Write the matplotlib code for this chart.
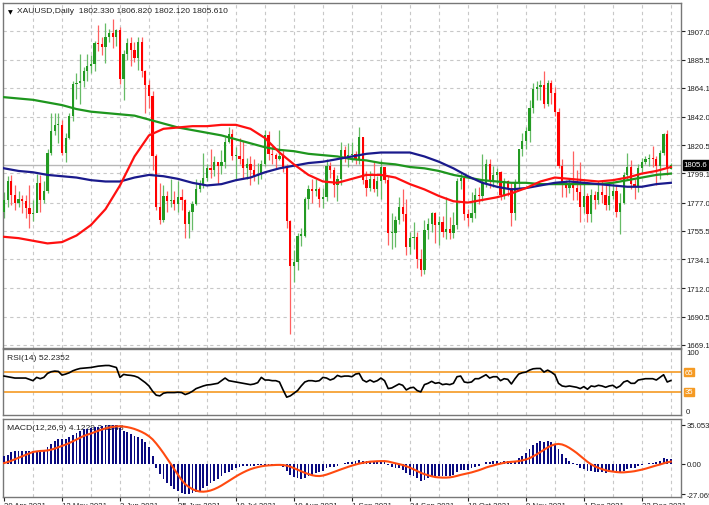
import numpy as np
import matplotlib
matplotlib.use("Agg")
import matplotlib.pyplot as plt

W, H = 709, 506

# daily bars 20 Apr 2021 .. 4 Jan 2022 (open = previous close)
first_open = 1770.0
closes = [1779, 1793, 1783, 1777, 1780, 1778, 1773, 1768, 1769, 1792,
          1779, 1786, 1815, 1831, 1836, 1836, 1815, 1826, 1843, 1867,
          1868, 1869, 1877, 1881, 1882, 1898, 1897, 1895, 1903, 1906,
          1903, 1908, 1871, 1890, 1898, 1893, 1887, 1899, 1877, 1866,
          1858, 1812, 1774, 1764, 1782, 1778, 1779, 1776, 1781, 1779,
          1761, 1770, 1776, 1787, 1791, 1796, 1803, 1802, 1808, 1805,
          1808, 1823, 1829, 1812, 1812, 1810, 1803, 1806, 1802, 1797,
          1799, 1806, 1828, 1814, 1813, 1810, 1812, 1804, 1763, 1729,
          1732, 1752, 1752, 1780, 1787, 1786, 1787, 1780, 1781, 1805,
          1802, 1790, 1795, 1817, 1810, 1813, 1814, 1810, 1827, 1794,
          1788, 1795, 1787, 1793, 1804, 1794, 1754, 1754, 1764, 1774,
          1768, 1743, 1750, 1751, 1734, 1726, 1756, 1761, 1769, 1760,
          1762, 1755, 1757, 1754, 1760, 1793, 1796, 1768, 1765, 1769,
          1783, 1782, 1792, 1806, 1793, 1798, 1800, 1783, 1793, 1788,
          1769, 1792, 1818, 1824, 1831, 1849, 1863, 1865, 1866, 1852,
          1868, 1860, 1846, 1805, 1790, 1788, 1790, 1788, 1785, 1774,
          1782, 1768, 1783, 1779, 1785, 1783, 1775, 1782, 1786, 1770,
          1777, 1798, 1804, 1791, 1789, 1803, 1808, 1810, 1811, 1810,
          1805, 1815, 1829, 1802.33, 1805.61]
highs = [1785, 1797, 1798, 1790, 1786, 1783, 1783, 1790, 1779, 1799,
         1798, 1793, 1818, 1845, 1845, 1845, 1840, 1830, 1845, 1869,
         1875, 1890, 1880, 1890, 1889, 1900, 1912, 1903, 1913, 1909,
         1916, 1909, 1910, 1893, 1902, 1903, 1899, 1903, 1903, 1878,
         1870, 1862, 1814, 1792, 1790, 1786, 1795, 1786, 1793, 1787,
         1780, 1771, 1778, 1795, 1794, 1815, 1806, 1818, 1812, 1808,
         1817, 1827, 1834, 1833, 1819, 1826, 1824, 1811, 1812, 1810,
         1807, 1809, 1832, 1831, 1820, 1815, 1832, 1817, 1806, 1764,
         1741, 1754, 1758, 1781, 1790, 1795, 1795, 1789, 1788, 1810,
         1808, 1804, 1798, 1823, 1820, 1822, 1823, 1816, 1834, 1827,
         1801, 1801, 1808, 1797, 1809, 1801, 1797, 1769, 1767, 1781,
         1787, 1780, 1755, 1762, 1755, 1742, 1764, 1765, 1770, 1770,
         1767, 1767, 1781, 1766, 1770, 1796, 1800, 1797, 1772, 1785,
         1788, 1789, 1814, 1810, 1810, 1805, 1803, 1801, 1796, 1794,
         1792, 1795, 1818, 1830, 1834, 1855, 1868, 1869, 1870, 1877,
         1870, 1870, 1865, 1849, 1810, 1794, 1795, 1816, 1802, 1808,
         1793, 1784, 1787, 1786, 1793, 1793, 1790, 1792, 1792, 1790,
         1784, 1800, 1815, 1809, 1795, 1806, 1811, 1812, 1814, 1820,
         1812, 1817, 1830, 1832, 1806.82]
lows = [1765, 1774, 1775, 1771, 1774, 1769, 1765, 1758, 1763, 1770,
        1770, 1777, 1784, 1813, 1828, 1822, 1813, 1808, 1825, 1839,
        1856, 1852, 1865, 1869, 1875, 1877, 1892, 1889, 1883, 1899,
        1894, 1896, 1867, 1855, 1885, 1881, 1884, 1878, 1872, 1845,
        1849, 1802, 1771, 1761, 1762, 1770, 1774, 1771, 1770, 1771,
        1750, 1750, 1756, 1775, 1785, 1788, 1793, 1796, 1797, 1791,
        1799, 1803, 1822, 1809, 1795, 1806, 1796, 1795, 1790, 1793,
        1791, 1795, 1805, 1809, 1806, 1803, 1809, 1800, 1758, 1677,
        1717, 1726, 1744, 1751, 1772, 1777, 1782, 1774, 1773, 1778,
        1796, 1781, 1778, 1790, 1808, 1804, 1808, 1806, 1806, 1791,
        1782, 1786, 1785, 1782, 1780, 1792, 1745, 1742, 1743, 1761,
        1763, 1737, 1738, 1742, 1727, 1721, 1723, 1749, 1755, 1746,
        1745, 1751, 1749, 1749, 1750, 1757, 1787, 1764, 1759, 1762,
        1765, 1776, 1778, 1789, 1788, 1789, 1791, 1779, 1780, 1782,
        1759, 1764, 1788, 1812, 1818, 1823, 1845, 1855, 1855, 1849,
        1850, 1852, 1843, 1803, 1781, 1781, 1784, 1779, 1779, 1762,
        1769, 1762, 1762, 1772, 1776, 1777, 1771, 1771, 1780, 1766,
        1753, 1776, 1795, 1787, 1780, 1785, 1800, 1806, 1805, 1804,
        1790, 1795, 1813, 1798, 1802.12]

# moving averages read every 4 bars
ma_bars = list(range(0, 185, 4))
ma_red = [1751, 1750, 1748, 1746, 1747, 1752, 1760, 1772, 1790, 1812,
          1828, 1833, 1834, 1835, 1835, 1836, 1836, 1833, 1826, 1815,
          1806, 1798, 1793, 1792, 1795, 1798, 1798, 1796, 1791, 1787,
          1782, 1778, 1777, 1779, 1781, 1784, 1788, 1793, 1796, 1795,
          1794, 1793, 1794, 1796, 1799, 1801, 1804]
ma_green = [1857, 1856, 1855, 1853, 1851, 1848, 1846, 1845, 1844, 1843,
            1840, 1837, 1834, 1832, 1830, 1828, 1825, 1822, 1819, 1817,
            1816, 1814, 1813, 1812, 1810, 1809, 1807, 1806, 1804, 1803,
            1801, 1798, 1796, 1794, 1793, 1792, 1792, 1791, 1791, 1791,
            1791, 1791, 1792, 1794, 1796, 1798, 1799]
ma_blue = [1803, 1801, 1800, 1798, 1797, 1796, 1794, 1793, 1793, 1796,
           1798, 1797, 1795, 1792, 1790, 1791, 1794, 1796, 1800, 1803,
           1805, 1807, 1808, 1810, 1812, 1814, 1815, 1815, 1815, 1812,
           1808, 1803, 1797, 1792, 1789, 1787, 1788, 1790, 1792, 1793,
           1792, 1791, 1790, 1789, 1789, 1791, 1792]

# RSI(14) per bar
rsi = [59, 58, 57, 56, 56, 56, 56, 54, 52, 57, 55, 57, 63, 65.5, 66.5,
       66, 60.5, 62, 64, 67, 69, 70.5, 71, 71.5, 72, 73, 74, 74.5, 75, 75,
       73.5, 72, 57, 61.5, 60.5, 60, 59, 57, 53, 49, 44, 36, 30, 29, 33,
       34, 34, 34, 34.5, 34, 31, 33, 36, 40, 42, 44, 45.5, 46, 47, 48, 52,
       56, 52, 51, 50, 49, 48, 47, 46, 47, 49, 57, 53, 53, 52, 52, 50, 38,
       27, 29, 33, 37, 44, 50, 52, 52, 51, 52, 57, 56, 53, 55, 60, 58, 59,
       59, 58, 62, 63, 53, 50, 53, 50, 52, 56, 52, 40, 41, 44, 47, 45, 38,
       41, 42, 37, 35, 46, 48, 51, 48, 49, 46, 47, 46, 48, 58, 59, 50, 49,
       50, 55, 55, 58, 61, 56, 58, 58, 52, 55, 54, 47, 55, 62, 64, 65, 68,
       70, 70.5, 70.5, 65, 68, 65, 61, 48, 44, 43, 44, 43, 42, 40, 43, 39,
       44, 43, 45, 44, 42, 44, 45, 41, 44, 50, 52, 48, 48, 53, 54, 55, 55,
       55, 53, 57, 61, 50, 52.2352]

# MACD(12,26,9) main line per bar
macd = [7, 8, 11, 12, 12, 12, 12, 11.5, 11.5, 11.5, 11.5, 12.5, 15, 18,
        21, 22.5, 22, 22.5, 24, 26, 28, 29.5, 31, 31.5, 32, 33, 33.5, 34,
        35, 35, 35, 35, 32, 30, 28.5, 27, 25.5, 24, 22, 19.5, 15.5, 7,
        -3.5, -9, -13.5, -17, -20, -22.5, -24.5, -26, -27, -27, -26.5,
        -25.5, -24, -21.5, -19.5, -17.5, -15.5, -13.5, -11, -8.5, -7, -5,
        -3.5, -2.5, -2, -1.5, -1.5, -1.5, -1, -0.5, -0.5, -0.5, -0.5, -0.5,
        -1, -3, -6, -10, -12, -13, -13.5, -12.5, -11, -10, -8.5, -7.5, -6,
        -4, -3, -2.5, -2, 0, 0.5, 1.5, 2, 2.5, 4, 3, 2.5, 2.5, 2, 2, 2.5,
        2, -1, -3, -4, -4, -5, -8, -9.5, -10.5, -12.5, -15, -14, -13, -12,
        -11.5, -11, -11, -10.5, -10.5, -10, -7, -5, -5.5, -5, -4, -2.5,
        -1.5, 0, 1.5, 2, 2.5, 3, 2, 2.5, 2.5, 1, 2.5, 5, 7.5, 10, 13.5, 17,
        19, 20.5, 20, 20.5, 20, 18, 13.5, 9, 5.5, 3, 1, -1, -3.5, -4.5, -6,
        -6.5, -7, -7, -7.5, -8, -7.5, -7.5, -8.5, -8.5, -6.5, -4.5, -4,
        -3.5, -2, -1, 0, 0.5, 1, 1.5, 3, 5.5, 4.5, 4.1229]

price_ticks = [1907.0, 1885.5, 1864.1, 1842.0, 1820.5, 1799.1, 1777.0,
               1755.5, 1734.1, 1712.0, 1690.5, 1669.1]
date_labels = ["20 Apr 2021", "12 May 2021", "3 Jun 2021", "25 Jun 2021",
               "19 Jul 2021", "10 Aug 2021", "1 Sep 2021", "24 Sep 2021",
               "18 Oct 2021", "9 Nov 2021", "1 Dec 2021", "23 Dec 2021"]
last_price = 1805.61
rsi_levels = [65, 35]
macd_top, macd_bottom = 35.053, -27.069

closes = np.array(closes, float)
highs = np.array(highs, float)
lows = np.array(lows, float)
opens = np.concatenate([[first_open], closes[:-1]])
n = len(closes)
idx = np.arange(n)

# signal = 9 bar SMA of MACD (nothing known before the first bar)
macd = np.array(macd, float)
padded = np.concatenate([np.zeros(8), macd])
signal = np.array([padded[i:i + 9].mean() for i in range(n)])


def px_axes(l, t, r, b):
    return fig.add_axes([l / W, 1 - b / H, (r - l) / W, (b - t) / H])


plt.rcParams["font.family"] = ["Liberation Sans", "DejaVu Sans"]
fig = plt.figure(figsize=(W / 100, H / 100), dpi=100)
fig.patch.set_facecolor("white")

x_left, x_right = -0.28, 186.8
grid_kw = dict(color="#c8c8c8", lw=0.8, ls=(0, (3, 3)), zorder=0)
frame_col = "#777777"
fs = 5.6
title_fs = 6.1

ax = px_axes(3, 4, 681, 349)
ax_rsi = px_axes(3, 350, 681, 416)
ax_macd = px_axes(3, 420, 681, 498)

for a in (ax, ax_rsi, ax_macd):
    a.set_xlim(x_left, x_right)
    for s in a.spines.values():
        s.set_color(frame_col)
        s.set_linewidth(1.0)
    a.yaxis.tick_right()
    a.tick_params(axis="y", direction="out", length=3, width=0.8,
                  colors="#222222", labelsize=fs, pad=1.0)
    a.set_xticks([])
    for g in range(8, n + 4, 8):
        a.axvline(g, **grid_kw)

# price panel
ax.set_ylim(1666.6, 1928.5)
ax.set_yticks(price_ticks)
ax.set_yticklabels([f"{v:.1f}" for v in price_ticks])
for v in price_ticks:
    ax.axhline(v, **grid_kw)
ax.axhline(last_price, color="#b8b8b8", lw=1.0, zorder=1)

up = closes >= opens
body_col = np.where(up, "#239a23", "#ff0000")
wick_col = np.where(up, "#66bb66", "#ff6060")
ax.vlines(idx, lows, highs, colors=wick_col, lw=0.9, zorder=2)
heights = np.where(np.abs(closes - opens) < 0.8, 0.8, closes - opens)
ax.bar(idx, heights, bottom=opens, width=0.62, color=body_col,
       linewidth=0, zorder=3)

ax.plot(ma_bars, ma_green, color="#1e961e", lw=1.6, zorder=4)
ax.plot(ma_bars, ma_blue, color="#1a1a8c", lw=1.6, zorder=4)
ax.plot(ma_bars, ma_red, color="#ff1010", lw=1.6, zorder=4)

ax.text(0.0075, 0.982, "\u25bc", transform=ax.transAxes, fontsize=4.5,
        va="top", ha="left", color="black", family="DejaVu Sans")
ax.text(0.0205, 0.987, "XAUUSD,Daily  1802.330 1806.820 1802.120 1805.610",
        transform=ax.transAxes, fontsize=title_fs, va="top", ha="left",
        color="#222222")
ax.text(1.004, last_price, "1805.6", transform=ax.get_yaxis_transform(),
        fontsize=fs, color="white", va="center", ha="left", clip_on=False,
        bbox=dict(boxstyle="square,pad=0.15", fc="black", ec="black"))

# RSI panel
ax_rsi.set_ylim(0, 100)
ax_rsi.set_yticks([100, 0])
ax_rsi.set_yticklabels(["100", "0"])
ax_rsi.get_yticklabels()[0].set_va("top")
ax_rsi.get_yticklabels()[1].set_va("bottom")
ax_rsi.tick_params(axis="y", length=0, pad=3.5)
for lv in rsi_levels:
    ax_rsi.axhline(lv, color="#f59a23", lw=1.2, zorder=2)
    ax_rsi.text(1.006, lv, str(lv), transform=ax_rsi.get_yaxis_transform(),
                fontsize=fs, color="white", va="center", ha="left",
                clip_on=False,
                bbox=dict(boxstyle="square,pad=0.1", fc="#f59a23",
                          ec="#f59a23"))
ax_rsi.plot(idx, rsi, color="black", lw=1.2, zorder=3)
ax_rsi.text(0.006, 0.93, f"RSI(14) {rsi[-1]:.4f}", transform=ax_rsi.transAxes,
            fontsize=title_fs, va="top", ha="left", color="#222222")

# MACD panel
ax_macd.set_ylim(-29.7, 40.4)
ax_macd.set_yticks([macd_top, 0, macd_bottom])
ax_macd.set_yticklabels([f"{macd_top:.3f}", "0.00", f"{macd_bottom:.3f}"])
ax_macd.text(0.006, 0.93, f"MACD(12,26,9) {macd[-1]:.4f} {signal[-1]:.4f}",
             transform=ax_macd.transAxes, fontsize=title_fs, va="top",
             ha="left", color="#222222", zorder=1)
ax_macd.bar(idx, macd, width=0.5, color="#0a0a80", linewidth=0, zorder=3)
ax_macd.plot(idx, signal, color="#ff4a10", lw=1.5, zorder=4)

# date labels below the last panel
ax_macd.set_xticks(range(0, 16 * len(date_labels), 16))
ax_macd.set_xticklabels(date_labels, ha="left")
ax_macd.tick_params(axis="x", direction="out", length=3, width=0.8,
                    colors="#222222", labelsize=fs, pad=0.5)

fig.savefig("out.png", dpi=100)
